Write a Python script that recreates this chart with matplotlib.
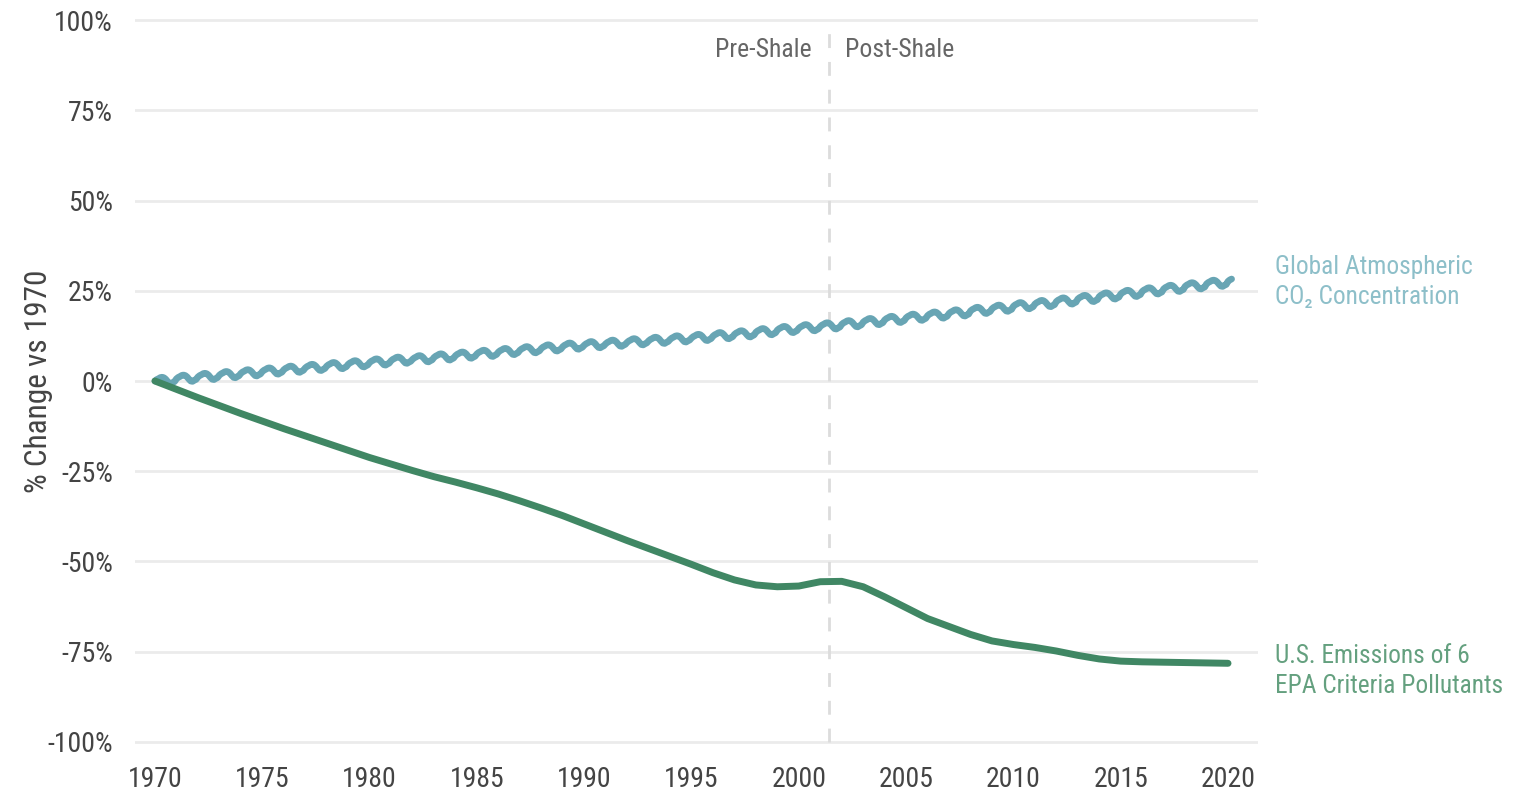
import matplotlib
matplotlib.use("Agg")
import matplotlib.pyplot as plt

plt.rcParams['font.family'] = ['Roboto Condensed', 'Roboto', 'DejaVu Sans']

# U.S. emissions of the 6 EPA criteria pollutants, % change vs 1970
years = list(range(1970, 2021))
emissions = [0.0, -2.3, -4.6, -6.8, -9.0, -11.1, -13.2, -15.2, -17.2, -19.2,
             -21.2, -23.0, -24.8, -26.5, -28.0, -29.6, -31.3, -33.2, -35.2, -37.3,
             -39.6, -41.9, -44.2, -46.4, -48.6, -50.8, -53.1, -55.1, -56.5, -57.0,
             -56.8, -55.6, -55.5, -57.0, -59.8, -62.8, -65.8, -68.0, -70.2, -72.0,
             -73.0, -73.8, -74.8, -76.0, -77.0, -77.6, -77.8, -77.9, -78.0, -78.1,
             -78.2]

# global atmospheric CO2, annual level (% vs 1970) and seasonal offset per month
co2_annual = [0.2, 0.8, 1.3, 1.8, 2.3, 2.8, 3.3, 3.8, 4.3, 4.8,
              5.3, 5.8, 6.2, 6.7, 7.2, 7.7, 8.2, 8.7, 9.2, 9.7,
              10.1, 10.5, 10.9, 11.3, 11.7, 12.1, 12.6, 13.1, 13.7, 14.3,
              14.8, 15.3, 15.9, 16.5, 17.1, 17.7, 18.3, 18.9, 19.6, 20.2,
              20.9, 21.5, 22.2, 22.9, 23.6, 24.3, 25.0, 25.7, 26.4, 27.1,
              27.8]
co2_season = [-0.2, 0.2, 0.45, 0.75, 0.85, 0.7, 0.3, -0.3, -0.8, -0.9, -0.6, -0.35]

co2_t, co2_v = [], []
for y, base in zip(years, co2_annual):
    for m, off in enumerate(co2_season):
        t = y + m / 12
        if t > 2020.2:
            break
        co2_t.append(t)
        co2_v.append(base + off)

shale_year = 2001.4
yticks = [-100, -75, -50, -25, 0, 25, 50, 75, 100]
xticks = list(range(1970, 2021, 5))

fig = plt.figure(figsize=(15.29, 7.95), dpi=100)
ax = fig.add_axes([0.0883, 0.0576, 0.7345, 0.9263])

for v in yticks:
    ax.axhline(v, color='#ebebeb', lw=2, zorder=0)
ax.vlines(shale_year, -100, 100, color='#dcdcdc', lw=2, linestyles=(0, (5, 5)), zorder=1)

ax.plot(co2_t, co2_v, color='#68a5b4', lw=4.8, solid_capstyle='round', zorder=3)
ax.plot(years, emissions, color='#408764', lw=5, solid_capstyle='round', zorder=3)

ax.text(shale_year - 0.8, 91.7, 'Pre-Shale', ha='right', va='center', fontsize=18.5, color='#666666')
ax.text(shale_year + 0.75, 91.7, 'Post-Shale', ha='left', va='center', fontsize=18.5, color='#666666')

ax.text(2022.2, 27.5, 'Global Atmospheric\nCO\u2082 Concentration', ha='left', va='center',
        fontsize=18.3, color='#8dbfc9', linespacing=1.3)
ax.text(2022.2, -80.3, 'U.S. Emissions of 6\nEPA Criteria Pollutants', ha='left', va='center',
        fontsize=18.3, color='#64a07f', linespacing=1.3)

ax.set_xlim(1969.07, 2021.4)
ax.set_ylim(-102, 102)
ax.set_xticks(xticks)
ax.set_yticks(yticks)
ax.set_yticklabels([f'{v}%' for v in yticks])
ax.tick_params(length=0, labelsize=20, labelcolor='#444444')
ax.tick_params(axis='x', pad=12)
ax.tick_params(axis='y', pad=16)
for s in ax.spines.values():
    s.set_visible(False)
ax.set_ylabel('% Change vs 1970', fontsize=22.5, color='#444444', labelpad=-4)

fig.savefig('out.png', dpi=100, facecolor='white')
